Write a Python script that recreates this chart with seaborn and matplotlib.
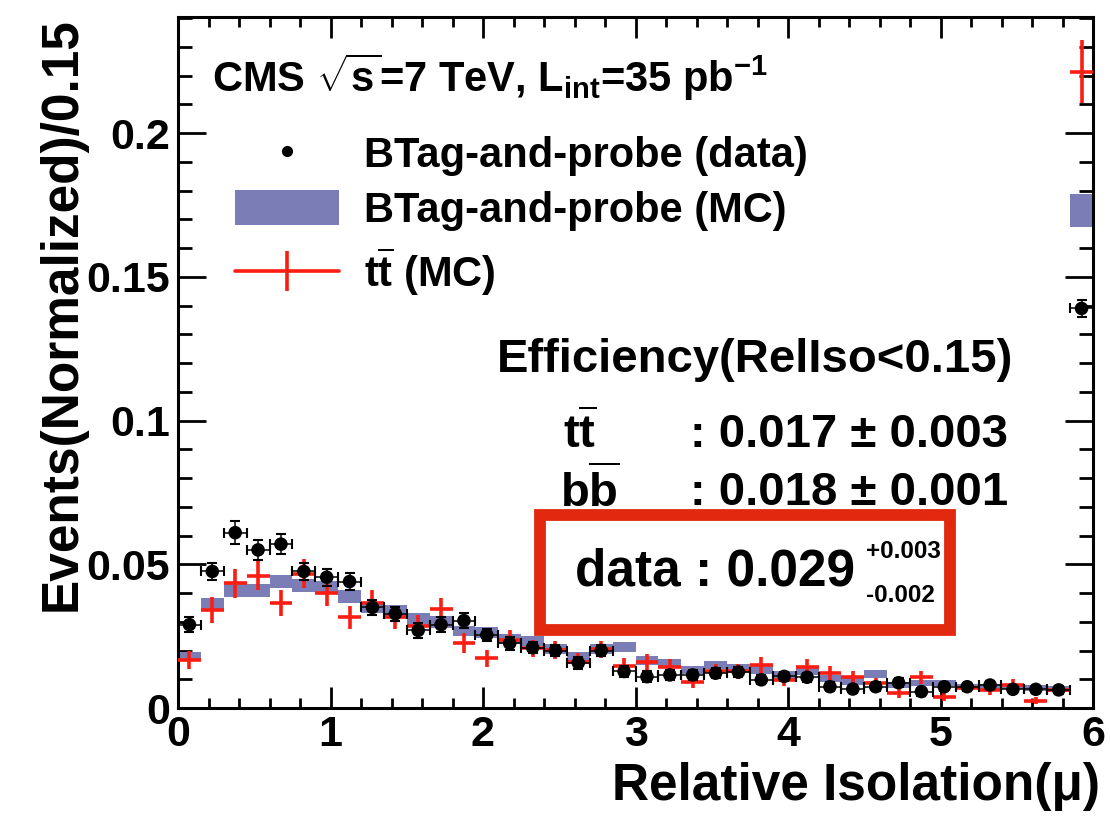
import numpy as np
import pandas as pd
import matplotlib
matplotlib.use("Agg")
import matplotlib.pyplot as plt
import seaborn as sns
from matplotlib.lines import Line2D
from matplotlib.patches import Patch, Rectangle
from matplotlib.legend_handler import HandlerTuple
from matplotlib.ticker import MultipleLocator, FuncFormatter

# ---------------- data ----------------
bin_width = 0.15
n_bins = 40  # last bin holds overflow

data_vals = [0.029, 0.0475, 0.061, 0.055, 0.057, 0.0475, 0.0455, 0.044, 0.035, 0.0328,
             0.027, 0.029, 0.0304, 0.0254, 0.0225, 0.021, 0.020, 0.0157, 0.020, 0.0127,
             0.0109, 0.0115, 0.0115, 0.0121, 0.0125, 0.0098, 0.011, 0.0107, 0.0074, 0.0066,
             0.0074, 0.0088, 0.0057, 0.0074, 0.0074, 0.008, 0.0065, 0.0065, 0.0063, 0.139]
data_err = [0.0025, 0.003, 0.004, 0.0035, 0.0035, 0.003, 0.003, 0.003, 0.0025, 0.0025,
            0.0025, 0.0025, 0.0025, 0.0022, 0.0022, 0.002, 0.002, 0.002, 0.002, 0.002,
            0.0018, 0.0018, 0.0018, 0.0018, 0.0018, 0.0016, 0.0016, 0.0016, 0.0015, 0.0015,
            0.0015, 0.0015, 0.0014, 0.0014, 0.0014, 0.0014, 0.0013, 0.0013, 0.0013, 0.003]

mc_vals = [0.0179, 0.036, 0.041, 0.0408, 0.0439, 0.0426, 0.042, 0.0387, 0.035, 0.034,
           0.031, 0.030, 0.0268, 0.0262, 0.024, 0.0233, 0.0204, 0.0179, 0.0204, 0.0212,
           0.0166, 0.0157, 0.0132, 0.015, 0.0138, 0.0132, 0.0115, 0.0127, 0.0104, 0.0092,
           0.0118, 0.008, 0.0086, 0.0086, 0.0075, 0.0075, 0.0075, 0.007, 0.0065, 0.173]
mc_err = [0.0016, 0.0022, 0.0023, 0.0023, 0.0023, 0.0023, 0.0022, 0.0022, 0.002, 0.002,
          0.002, 0.002, 0.0019, 0.0019, 0.0018, 0.0018, 0.0017, 0.0016, 0.0017, 0.0017,
          0.0015, 0.0015, 0.0014, 0.0015, 0.0014, 0.0014, 0.0013, 0.0013, 0.0012, 0.0012,
          0.0013, 0.0011, 0.0011, 0.0011, 0.001, 0.001, 0.001, 0.001, 0.001, 0.0058]

tt_vals = [0.0167, 0.034, 0.0434, 0.046, 0.0365, 0.0467, 0.040, 0.0316, 0.0366, 0.0315,
           0.0285, 0.0343, 0.0226, 0.0173, 0.0237, 0.0208, 0.0202, 0.0161, 0.0204, 0.0146,
           0.0161, 0.0144, 0.0092, 0.0127, 0.0127, 0.015, 0.0099, 0.0144, 0.0121, 0.0107,
           0.0086, 0.0051, 0.0107, 0.0039, 0.0069, 0.0063, 0.008, 0.0025, 0.0063, 0.2214]
tt_err = [0.003, 0.0045, 0.005, 0.005, 0.0045, 0.005, 0.0045, 0.004, 0.0045, 0.004,
          0.004, 0.004, 0.0035, 0.003, 0.0035, 0.003, 0.003, 0.003, 0.003, 0.0028,
          0.0028, 0.0026, 0.0022, 0.0025, 0.0025, 0.0027, 0.0022, 0.0027, 0.0024, 0.0023,
          0.002, 0.0016, 0.0023, 0.0014, 0.0018, 0.0017, 0.002, 0.0012, 0.0017, 0.011]

x_ticks = [0, 1, 2, 3, 4, 5, 6]
y_ticks = [0, 0.05, 0.1, 0.15, 0.2]

edges = np.arange(n_bins + 1) * bin_width
centers = 0.5 * (edges[:-1] + edges[1:])
df = pd.DataFrame({"x": centers, "data": data_vals, "data_err": data_err,
                   "mc": mc_vals, "mc_err": mc_err, "tt": tt_vals, "tt_err": tt_err})

# ---------------- style ----------------
sns.set_theme(style="ticks")
plt.rcParams["font.family"] = ["Liberation Sans", "DejaVu Sans"]
plt.rcParams["font.weight"] = "bold"
plt.rcParams["axes.labelweight"] = "bold"
plt.rcParams["text.color"] = "black"
plt.rcParams["axes.labelcolor"] = "black"
plt.rcParams["xtick.color"] = "black"
plt.rcParams["ytick.color"] = "black"
plt.rcParams["mathtext.fontset"] = "custom"
plt.rcParams["mathtext.rm"] = "Liberation Sans:bold"
plt.rcParams["mathtext.bf"] = "Liberation Sans:bold"
plt.rcParams["mathtext.it"] = "Liberation Sans:bold:italic"
plt.rcParams["mathtext.sf"] = "Liberation Sans:bold"

W, H = 1110, 824
MC_COLOR = "#7b7db7"
RED = "#fb1d12"

fig = plt.figure(figsize=(W / 100, H / 100), dpi=100)
ax = fig.add_axes([178 / W, 1 - 708 / H, 915 / W, 691 / H])

def px(x, y):
    return x / W, 1 - y / H

# MC band boxes
ax.bar(df["x"], 2 * df["mc_err"], bottom=df["mc"] - df["mc_err"], width=bin_width,
       color=MC_COLOR, linewidth=0, zorder=1)

# ttbar crosses
ax.errorbar(df["x"], df["tt"], xerr=bin_width / 2, yerr=df["tt_err"], fmt="none",
            ecolor=RED, elinewidth=2.6, capsize=0, zorder=3)

# data
ax.errorbar(df["x"], df["data"], xerr=bin_width / 2, yerr=df["data_err"], fmt="none",
            ecolor="black", elinewidth=1.1, capsize=3.5, capthick=1.5, zorder=4)
sns.scatterplot(data=df, x="x", y="data", color="black", s=95, edgecolor="none",
                zorder=5, ax=ax, legend=False)

# axes
ax.set_xlim(0, 6)
ax.set_ylim(0, 0.2404)
ax.set_xticks(x_ticks)
ax.set_yticks(y_ticks)
ax.xaxis.set_minor_locator(MultipleLocator(0.2))
ax.yaxis.set_minor_locator(MultipleLocator(0.01))
ax.yaxis.set_major_formatter(FuncFormatter(lambda v, p: "{:g}".format(v)))
ax.xaxis.set_major_formatter(FuncFormatter(lambda v, p: "{:g}".format(v)))
ax.tick_params(which="both", direction="in", top=True, right=True, width=2, colors="black")
ax.tick_params(axis="x", which="major", length=15, labelsize=31, pad=5)
ax.tick_params(axis="x", which="minor", length=7.5)
ax.tick_params(axis="y", which="major", length=20, labelsize=31, pad=6)
ax.tick_params(axis="y", which="minor", length=10)
for s in ax.spines.values():
    s.set_linewidth(2.2)
    s.set_color("black")
ax.set_xlabel("Relative Isolation(μ)", fontsize=37, loc="right", fontweight="bold", color="black")
ax.set_ylabel("Events(Normalized)/0.15", fontsize=37, loc="top", fontweight="bold", color="black")
ax.xaxis.set_label_coords(1.008, -0.078)
ax.yaxis.set_label_coords(-0.100, 1.0)

# legend
h_data = Line2D([], [], marker="o", color="black", linestyle="none", markersize=7)
h_mc = Patch(facecolor=MC_COLOR, edgecolor="none")
h_tt = (Line2D([], [], color=RED, lw=2.6),
        Line2D([], [], color=RED, marker="|", markersize=29, mew=2.6, linestyle="none"))
leg = ax.legend([h_data, h_mc, h_tt],
                ["BTag-and-probe (data)", "BTag-and-probe (MC)", r"$\mathrm{t}\overline{\mathrm{t}}$ (MC)"],
                handler_map={tuple: HandlerTuple(ndivide=1)},
                loc="upper left", bbox_to_anchor=((235 - 178) / 915, (708 - 135) / 691),
                frameon=False, fontsize=30, handlelength=2.5, handleheight=0.9,
                handletextpad=0.6, labelspacing=0.35, borderpad=0, borderaxespad=0)

# texts
fig.text(*px(212, 77), r"CMS $\sqrt{\mathrm{s}}$=7 TeV, L$_{\mathrm{int}}$=35 pb$^{\mathrm{-1}}$",
         fontsize=30, va="center", ha="left")
fig.text(*px(497, 360), "Efficiency(RelIso<0.15)", fontsize=34, va="center", ha="left")
fig.text(*px(563, 435), r"$\mathrm{t}\overline{\mathrm{t}}$", fontsize=34, va="center", ha="left")
fig.text(*px(690, 435), ": 0.017 ± 0.003", fontsize=34, va="center", ha="left")
fig.text(*px(560, 493), r"$\mathrm{b}\overline{\mathrm{b}}$", fontsize=34, va="center", ha="left")
fig.text(*px(690, 493), ": 0.018 ± 0.001", fontsize=34, va="center", ha="left")
fig.text(*px(575, 572), "data : 0.029", fontsize=37, va="center", ha="left")
fig.text(*px(866, 552), "+0.003", fontsize=17.5, va="center", ha="left")
fig.text(*px(866, 595), "-0.002", fontsize=17.5, va="center", ha="left")

x0, y0 = px(540, 630)
x1, y1 = px(950, 515)
fig.patches.append(Rectangle((x0, y0), x1 - x0, y1 - y0, transform=fig.transFigure,
                             fill=False, edgecolor="#e2280e", linewidth=8.5, zorder=10))

fig.savefig("out.png", dpi=100)
